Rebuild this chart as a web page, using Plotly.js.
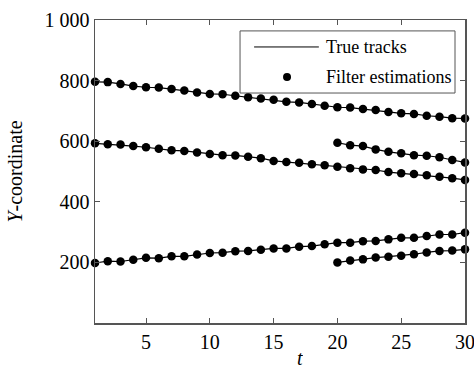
<!DOCTYPE html>
<html>
<head>
<meta charset="utf-8">
<script src="https://cdn.plot.ly/plotly-3.0.1.min.js"></script>
<style>html,body{margin:0;padding:0;background:#fff;}#chart{width:474px;height:369px;}</style>
</head>
<body>
<div id="chart"></div>
<script>
// time steps
const tFull = [1,2,3,4,5,6,7,8,9,10,11,12,13,14,15,16,17,18,19,20,21,22,23,24,25,26,27,28,29,30];
const tLate = [20,21,22,23,24,25,26,27,28,29,30];
// target tracks (Y-coordinate)
const track1 = [796,795,789,782,778,777,772,767,761,756,755,750,745,741,737,730,728,723,717,712,711,706,703,696,692,690,684,681,676,675];
const track2 = [593,590,589,584,580,575,570,568,563,558,554,553,549,544,535,531,529,524,521,516,511,507,505,498,494,492,488,483,478,472];
const track3 = [198,204,203,209,215,214,220,220,226,231,232,237,238,242,246,246,252,254,260,265,265,270,271,276,281,281,287,292,292,298];
const track4 = [595,587,584,573,565,560,554,552,547,538,530];
const track5 = [200,206,210,216,219,222,227,233,238,239,243];
// axis ticks
const xTicks = [5,10,15,20,25,30];
const yTickVals = [200,400,600,800,1000];
const yTickText = ['200','400','600','800','1 000'];

const series = [[tFull,track1],[tFull,track2],[tFull,track3],[tLate,track4],[tLate,track5]];
const traces = series.map(([x,y]) => ({
  x: x, y: y, type: 'scatter', mode: 'lines+markers',
  line: {color: '#000', width: 1.2},
  marker: {color: '#000', size: 8.5, symbol: 'circle'},
  showlegend: false, cliponaxis: false
}));

const FONT = 'Liberation Serif, Times New Roman, serif';
const axisCommon = {
  showline: true, linecolor: '#555', linewidth: 1.5, mirror: 'ticks',
  ticks: 'inside', ticklen: 5, tickcolor: '#555', tickwidth: 1,
  showgrid: false, zeroline: false, ticklabeloverflow: 'allow',
  tickfont: {family: FONT, size: 20, color: '#000'}
};

// legend geometry (paper coords)
const lx0 = 0.392, lx1 = 0.973, ly0 = 0.759, ly1 = 0.964;
const layout = {
  width: 474, height: 369,
  margin: {l: 95, r: 9, t: 20, b: 46},
  paper_bgcolor: '#fff', plot_bgcolor: '#fff',
  font: {family: FONT, color: '#000'},
  xaxis: Object.assign({}, axisCommon, {
    range: [1, 30], tickvals: xTicks, ticktext: xTicks.map(String)
  }),
  yaxis: Object.assign({}, axisCommon, {
    range: [0, 1000], tickvals: yTickVals, ticktext: yTickText,
    title: {text: '<i>Y</i>-coordinate', font: {family: FONT, size: 20, color: '#000'}, standoff: 16}
  }),
  shapes: [
    {type: 'rect', xref: 'paper', yref: 'paper', x0: lx0, x1: lx1, y0: ly0, y1: ly1,
     line: {color: '#555', width: 1}, fillcolor: '#fff', layer: 'above'},
    {type: 'line', xref: 'paper', yref: 'paper', x0: 0.430, x1: 0.605, y0: 0.911, y1: 0.911,
     line: {color: '#000', width: 1}, layer: 'above'},
    {type: 'circle', xref: 'paper', yref: 'paper', x0: 0.519 - 0.0108, x1: 0.519 + 0.0108,
     y0: 0.812 - 0.0132, y1: 0.812 + 0.0132, line: {color: '#000', width: 0}, fillcolor: '#000', layer: 'above'}
  ],
  annotations: [
    {xref: 'paper', yref: 'paper', x: 0.619, y: 0.911, xanchor: 'left', yanchor: 'middle',
     text: 'True tracks', showarrow: false, font: {family: FONT, size: 18, color: '#000'}},
    {xref: 'paper', yref: 'paper', x: 0.619, y: 0.812, xanchor: 'left', yanchor: 'middle',
     text: 'Filter estimations', showarrow: false, font: {family: FONT, size: 18, color: '#000'}},
    {xref: 'x', yref: 'paper', x: 17.1, y: -0.149, xanchor: 'center', yanchor: 'bottom',
     height: 18, valign: 'middle', borderpad: 0,
     text: '<i>t</i>', showarrow: false, font: {family: FONT, size: 20, color: '#000'}}
  ]
};

Plotly.newPlot('chart', traces, layout, {displayModeBar: false, staticPlot: true});
</script>
</body>
</html>
